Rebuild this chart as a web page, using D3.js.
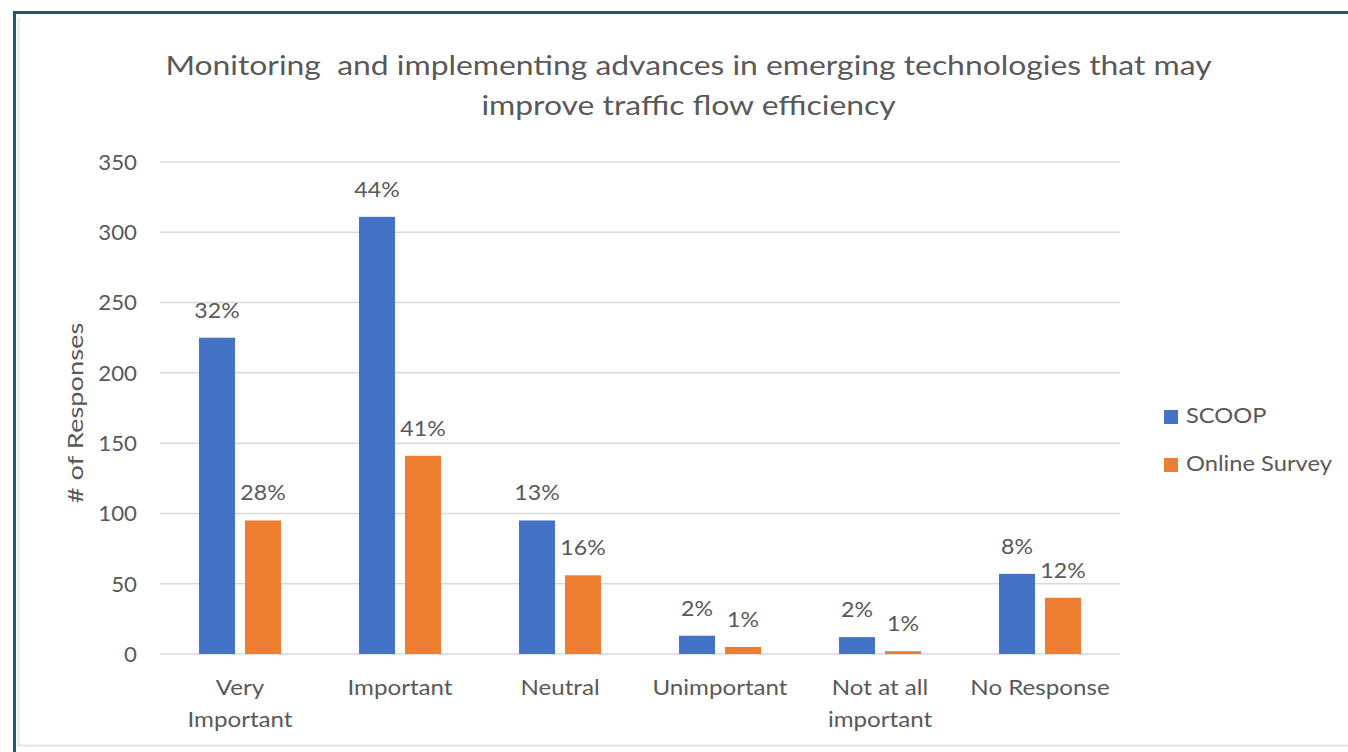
<!DOCTYPE html>
<html>
<head>
<meta charset="utf-8">
<script src="https://cdn.jsdelivr.net/npm/d3@7"></script>
<style>
  html, body { margin: 0; padding: 0; background: #fff; }
  svg { display: block; }
  text { font-family: Lato, "Open Sans", sans-serif; fill: #595959; }
</style>
</head>
<body>
<svg id="chart" width="1348" height="752"></svg>
<script>
// Survey responses by importance rating
const categories = [["Very", "Important"], ["Important"], ["Neutral"], ["Unimportant"], ["Not at all", "important"], ["No Response"]];
const seriesNames = ["SCOOP", "Online Survey"];
const scoopValues = [225, 311, 95, 13, 12, 57];
const onlineValues = [95, 141, 56, 5, 2, 40];
const scoopLabels = ["32%", "44%", "13%", "2%", "2%", "8%"];
const onlineLabels = ["28%", "41%", "16%", "1%", "1%", "12%"];
const yTicks = [0, 50, 100, 150, 200, 250, 300, 350];
const colors = ["#4472C4", "#ED7D31"];

const svg = d3.select("#chart");

// text with a slightly widened face, anchored at (x, y)
function label(parent, x, y, str, size, anchor, sx) {
  return parent.append("text")
    .attr("transform", `translate(${x},${y}) scale(${sx},1)`)
    .attr("text-anchor", anchor)
    .style("font-size", size + "px")
    .text(str);
}

// outer frame
svg.append("rect").attr("x", 0).attr("y", 0).attr("width", 1348).attr("height", 752).attr("fill", "#fff");
svg.append("line").attr("x1", 14).attr("x2", 1348).attr("y1", 12.5).attr("y2", 12.5)
  .attr("stroke", "#1d5878").attr("stroke-width", 3);
svg.append("line").attr("x1", 14.5).attr("x2", 14.5).attr("y1", 11).attr("y2", 752)
  .attr("stroke", "#1d5878").attr("stroke-width", 3);
svg.append("line").attr("x1", 18.5).attr("x2", 18.5).attr("y1", 18).attr("y2", 745)
  .attr("stroke", "#ececec").attr("stroke-width", 3);
svg.append("line").attr("x1", 17).attr("x2", 1348).attr("y1", 745.5).attr("y2", 745.5)
  .attr("stroke", "#e6e6e6").attr("stroke-width", 2);

const plotLeft = 160, plotRight = 1120, plotTop = 162, plotBottom = 654;

const x = d3.scaleBand().domain(d3.range(categories.length)).range([plotLeft, plotRight]);
const y = d3.scaleLinear().domain([0, 350]).range([plotBottom, plotTop]);

// gridlines
svg.append("g").selectAll("line").data(yTicks).join("line")
  .attr("x1", plotLeft).attr("x2", plotRight)
  .attr("y1", d => y(d)).attr("y2", d => y(d))
  .attr("stroke", "#d9d9d9").attr("stroke-width", 1.5);

// y axis labels
const yAxis = d3.axisLeft(y).tickValues(yTicks).tickSize(0).tickPadding(0);
const yg = svg.append("g").attr("transform", `translate(${137},0)`).call(yAxis);
yg.select(".domain").remove();
yg.selectAll(".tick").each(function () {
  const t = d3.select(this).select("text");
  t.attr("transform", "scale(1.06,1)").attr("x", 0)
    .style("font-family", "Lato, sans-serif").style("font-size", "21px")
    .attr("fill", "#595959").attr("dy", "0.35em");
});

// bars
const barW = 36, gap = 10;
const series = [scoopValues, onlineValues];
const labels = [scoopLabels, onlineLabels];
series.forEach((vals, s) => {
  const offset = s === 0 ? -gap / 2 - barW : gap / 2;
  const g = svg.append("g");
  g.selectAll("rect").data(vals).join("rect")
    .attr("x", (d, i) => x(i) + x.bandwidth() / 2 + offset)
    .attr("y", d => y(d))
    .attr("width", barW)
    .attr("height", d => y(0) - y(d))
    .attr("fill", colors[s]);
  vals.forEach((d, i) => {
    label(g, x(i) + x.bandwidth() / 2 + offset + barW / 2, y(d) - 20, labels[s][i], 21, "middle", 1.1);
  });
});

// category labels
const xg = svg.append("g");
categories.forEach((lines, i) => {
  lines.forEach((t, k) => {
    label(xg, x(i) + x.bandwidth() / 2, 695 + k * 32, t, 21, "middle", 1.15);
  });
});

// title
const title = ["Monitoring\u00a0 and implementing advances in emerging technologies that may", "improve traffic flow efficiency"];
title.forEach((t, k) => {
  label(svg, 688.5, 75 + k * 40, t, 27, "middle", 1.18);
});

// y axis title
svg.append("text")
  .attr("transform", `translate(83,413) rotate(-90) scale(1.3,1)`)
  .attr("text-anchor", "middle").style("font-size", "21px").text("# of Responses");

// legend
const lg = svg.append("g");
seriesNames.forEach((n, i) => {
  lg.append("rect").attr("x", 1164).attr("y", 410 + i * 48).attr("width", 14).attr("height", 14).attr("fill", colors[i]);
  label(lg, 1186, 423 + i * 48, n, 21, "start", 1.13);
});
</script>
</body>
</html>
